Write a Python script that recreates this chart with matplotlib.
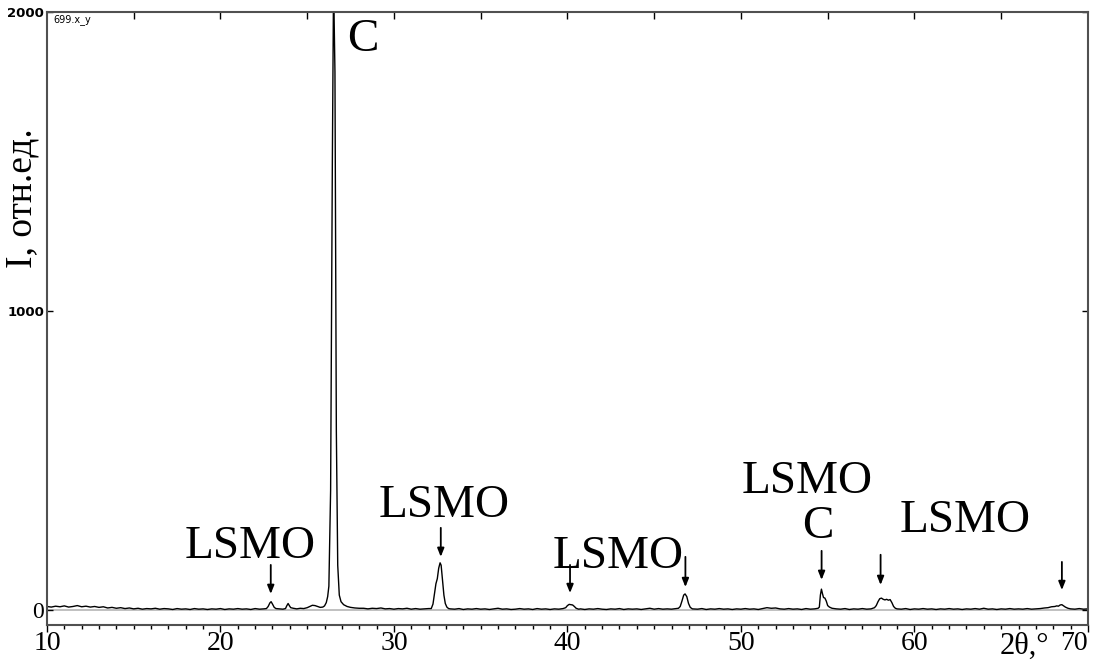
import matplotlib
matplotlib.use("Agg")
import matplotlib.pyplot as plt
import numpy as np

# diffractogram: 2theta (deg) and intensity (counts)
two_theta = [
    10.0, 10.25, 10.5, 10.75, 11.0, 11.25, 11.5, 11.75, 12.0, 12.25, 12.5, 12.75,
    13.0, 13.25, 13.5, 13.75, 14.0, 14.25, 14.5, 14.75, 15.0, 15.25, 15.5, 15.75,
    16.0, 16.25, 16.5, 16.75, 17.0, 17.25, 17.5, 17.75, 18.0, 18.25, 18.5, 18.75,
    19.0, 19.25, 19.5, 19.75, 20.0, 20.25, 20.5, 20.75, 21.0, 21.25, 21.5, 21.75,
    22.0, 22.25, 22.5,
    22.65, 22.75, 22.85, 22.92, 23.0, 23.1, 23.2, 23.4, 23.6,
    23.75, 23.82, 23.9, 23.98, 24.05, 24.2, 24.4, 24.6, 24.8, 25.0, 25.15, 25.3,
    25.45, 25.6, 25.75, 25.9, 26.0, 26.1, 26.18, 26.25, 26.35, 26.45, 26.52,
    26.6, 26.68, 26.76, 26.85, 26.95, 27.1, 27.3, 27.5, 27.75, 28.0,
    28.25, 28.5, 28.75, 29.0, 29.25, 29.5, 29.75, 30.0, 30.25, 30.5, 30.75, 31.0,
    31.25, 31.5, 31.75, 32.0,
    32.15, 32.25, 32.35, 32.42, 32.5, 32.58, 32.66, 32.72, 32.8, 32.88, 32.96,
    33.05, 33.15,
    33.25, 33.5, 33.75, 34.0, 34.25, 34.5, 34.75, 35.0, 35.25, 35.5, 35.75, 36.0,
    36.25, 36.5, 36.75, 37.0, 37.25, 37.5, 37.75, 38.0, 38.25, 38.5, 38.75, 39.0,
    39.25, 39.5, 39.75,
    39.9, 40.0, 40.1, 40.2, 40.3, 40.4, 40.5, 40.65,
    40.75, 41.0, 41.25, 41.5, 41.75, 42.0, 42.25, 42.5, 42.75, 43.0, 43.25, 43.5,
    43.75, 44.0, 44.25, 44.5, 44.75, 45.0, 45.25, 45.5, 45.75, 46.0, 46.25, 46.4,
    46.5, 46.6, 46.7, 46.78, 46.88, 46.98, 47.08, 47.2,
    47.5, 47.75, 48.0, 48.25, 48.5, 48.75, 49.0, 49.25, 49.5, 49.75, 50.0, 50.25,
    50.5, 50.75, 51.0, 51.25, 51.5, 51.75, 52.0, 52.25, 52.5, 52.75, 53.0, 53.25,
    53.5, 53.75, 54.0, 54.25, 54.45,
    54.52, 54.58, 54.64, 54.7, 54.76, 54.84, 54.92, 55.0, 55.1, 55.25, 55.5,
    55.75, 56.0, 56.25, 56.5, 56.75, 57.0, 57.25, 57.5, 57.7,
    57.8, 57.9, 58.0, 58.1, 58.2, 58.3, 58.4, 58.5, 58.6, 58.7, 58.8, 58.9, 59.0,
    59.25, 59.5, 59.75, 60.0, 60.25, 60.5, 60.75, 61.0, 61.25, 61.5, 61.75, 62.0,
    62.25, 62.5, 62.75, 63.0, 63.25, 63.5, 63.75, 64.0, 64.25, 64.5, 64.75, 65.0,
    65.25, 65.5, 65.75, 66.0, 66.25, 66.5, 66.75, 67.0, 67.25, 67.5,
    67.7, 67.9, 68.1, 68.2, 68.3, 68.4, 68.5, 68.6, 68.7, 68.85, 69.0,
    69.25, 69.5, 69.75, 70.0,
]
intensity = [
    12, 10, 13, 11, 14, 10, 12, 15, 11, 13, 10, 12,
    9, 11, 7, 9, 6, 8, 5, 7, 4, 6, 3, 5,
    4, 6, 3, 5, 4, 2, 5, 3, 4, 2, 5, 3,
    4, 2, 4, 3, 5, 2, 4, 3, 5, 3, 4, 2,
    5, 3, 4,
    5, 12, 24, 28, 20, 9, 5, 4, 3,
    5, 14, 22, 14, 8, 6, 4, 6, 5, 8, 12, 16,
    15, 12, 9, 10, 14, 25, 45, 80, 400, 1500, 2100,
    1800, 600, 150, 50, 28, 18, 12, 9, 7, 6,
    6, 4, 6, 5, 7, 4, 5, 3, 5, 4, 6, 3,
    5, 3, 4, 5,
    5, 20, 60, 88, 105, 140, 158, 150, 100, 50, 22,
    10, 5,
    4, 3, 5, 2, 4, 3, 5, 3, 4, 2, 4, 6,
    3, 4, 2, 3, 5, 3, 4, 2, 5, 3, 4, 2,
    4, 3, 5,
    8, 15, 19, 18, 17, 12, 6, 3,
    4, 2, 4, 3, 5, 3, 2, 4, 3, 5, 2, 4,
    3, 4, 2, 4, 6, 3, 5, 3, 4, 3, 5, 6,
    12, 30, 50, 54, 45, 22, 9, 4,
    3, 5, 2, 4, 3, 5, 3, 4, 2, 4, 3, 5,
    3, 4, 2, 5, 8, 6, 7, 4, 3, 5, 3, 4,
    2, 5, 3, 4, 6,
    10, 50, 70, 55, 42, 40, 30, 15, 10, 6, 4,
    3, 5, 2, 4, 3, 5, 3, 4, 8,
    15, 28, 38, 40, 36, 34, 36, 33, 35, 25, 12, 6, 4,
    3, 5, 2, 4, 3, 5, 3, 4, 2, 4, 3, 5,
    3, 4, 2, 4, 3, 5, 3, 6, 3, 4, 2, 4,
    3, 5, 3, 4, 3, 5, 3, 4, 5, 7,
    8, 11, 12, 14, 13, 17, 18, 14, 10, 6, 4,
    3, 5, 3, 4,
]

# arrows: position, tail and tip heights
arrow_x = [22.9, 32.7, 40.15, 46.8, 54.65, 58.05, 68.5]
arrow_top = [151, 275, 151, 178, 198, 185, 161]
arrow_tip = [54, 178, 57, 77, 101, 84, 67]

# phase labels
label_text = ["LSMO", "LSMO", "LSMO", "LSMO", "C", "LSMO", "C"]
label_x = [21.7, 32.9, 42.95, 53.8, 54.45, 62.95, 28.2]
label_y = [174, 312, 141, 393, 242, 262, 1869]

xticks = [10, 20, 30, 40, 50, 60, 70]
yticks = [0, 1000, 2000]

serif = "Liberation Serif"

fig = plt.figure(figsize=(11.1, 6.6), dpi=100)
ax = fig.add_axes([0.0423, 0.053, 0.9378, 0.9288])

ax.axhline(0, color="#b5b5b5", lw=1.2, zorder=1)
ax.plot(two_theta, intensity, color="black", lw=1.0, zorder=2)

for x, top, tip in zip(arrow_x, arrow_top, arrow_tip):
    ax.annotate("", xy=(x, tip), xytext=(x, top),
                arrowprops=dict(arrowstyle="-|>,head_length=0.5,head_width=0.2",
                                color="black", lw=1.3, shrinkA=0, shrinkB=0,
                                mutation_scale=10))

for t, x, y in zip(label_text, label_x, label_y):
    ax.text(x, y, t, family=serif, fontsize=34, ha="center", va="baseline")

ax.set_xlim(10, 70)
ax.set_ylim(-50, 2000)

for s in ax.spines.values():
    s.set_color("#505050")
    s.set_linewidth(1.5)

ax.set_xticks(xticks)
ax.set_xticks(np.arange(10, 71, 1), minor=True)
ax.tick_params(axis="x", which="major", direction="out", length=5, width=1,
               top=False, pad=-1)
ax.tick_params(axis="x", which="minor", direction="out", length=3, width=1,
               top=False)
xl = ax.set_xticklabels([str(v) for v in xticks], family=serif, fontsize=20)
xl[-1].set_ha("right")

# top ticks every 5 deg, pointing inward
top = ax.secondary_xaxis("top")
top.set_xticks(np.arange(15, 70, 5))
top.tick_params(direction="in", length=5, width=1, labeltop=False)
top.spines["top"].set_visible(False)

ax.set_yticks(yticks)
ax.tick_params(axis="y", direction="in", length=4, width=1, right=True, pad=2)
yl = ax.set_yticklabels([str(v) for v in yticks])
yl[0].set_fontfamily(serif)
yl[0].set_fontsize(17)
for lab in yl[1:]:
    lab.set_fontfamily("DejaVu Sans")
    lab.set_fontsize(9.5)
    lab.set_fontweight("bold")

ax.text(0.006, 0.996, "699.x_y", transform=ax.transAxes, fontsize=7,
        ha="left", va="top", family="DejaVu Sans")

fig.text(0.02, 0.70, "I, отн.ед.", rotation=90, family=serif, fontsize=27,
         ha="center", va="center")
fig.text(0.923, 0.009, "2θ,°", family=serif, fontsize=22,
         ha="center", va="baseline")

fig.savefig("out.png", dpi=100)
